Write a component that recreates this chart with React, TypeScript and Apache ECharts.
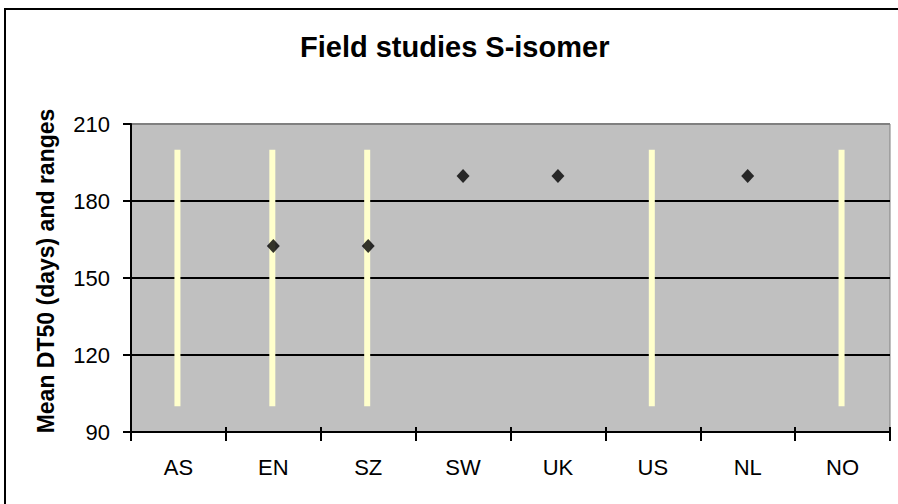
import React, { useEffect, useRef } from "react";
import * as echarts from "echarts";

// Sites along the category axis
const categories = ["AS", "EN", "SZ", "SW", "UK", "US", "NL", "NO"];
// Mean DT50 (days) per site; null where no mean is given
const meanDT50 = [null, 162.5, 162.5, 189.7, 189.7, null, 189.7, null];
// Range limits (days); null where no range is given
const rangeLow = [100, 100, 100, null, null, 100, null, 100];
const rangeHigh = [200, 200, 200, null, null, 200, null, 200];
// Value-axis settings
const yMin = 90;
const yMax = 210;
const yStep = 30;

const FONT = "'Liberation Sans', Arial, Helvetica, sans-serif";

export default function App() {
  const ref = useRef<HTMLDivElement>(null);

  useEffect(() => {
    document.body.style.margin = "0";
    if (!ref.current) return;
    const chart = echarts.init(ref.current, null, { renderer: "svg" });

    const rangeData = categories
      .map((c, i) => [i, rangeLow[i], rangeHigh[i]])
      .filter((d) => d[1] != null && d[2] != null);

    const meanData = categories.map((c, i) => [c, meanDT50[i]]).filter((d) => d[1] != null);

    chart.setOption({
      animation: false,
      backgroundColor: "#ffffff",
      title: {
        text: "Field studies S-isomer",
        left: 300,
        top: 32,
        padding: 0,
        textStyle: { fontFamily: FONT, fontSize: 29, fontWeight: "bold", color: "#000" },
      },
      grid: {
        left: 131,
        top: 124,
        right: 8,
        bottom: 72,
        show: true,
        backgroundColor: "#c0c0c0",
        borderColor: "#808080",
        borderWidth: 1,
      },
      xAxis: [
        {
          type: "category",
          data: categories,
          boundaryGap: true,
          axisLine: { show: true, lineStyle: { color: "#000", width: 2 } },
          axisTick: { show: true, length: 9, inside: false, lineStyle: { color: "#000", width: 2 } },
          axisLabel: { fontFamily: FONT, fontSize: 22, color: "#000", margin: 24 },
          splitLine: { show: false },
          z: 5,
        },
        {
          type: "category",
          data: categories,
          boundaryGap: true,
          position: "bottom",
          axisLine: { show: false },
          axisTick: { show: true, length: 5, inside: true, lineStyle: { color: "#000", width: 2 } },
          axisLabel: { show: false },
          splitLine: { show: false },
        },
      ],
      yAxis: {
        type: "value",
        min: yMin,
        max: yMax,
        interval: yStep,
        axisLine: { show: true, lineStyle: { color: "#000", width: 2 } },
        axisTick: { show: true, length: 8, lineStyle: { color: "#000", width: 2 } },
        axisLabel: { fontFamily: FONT, fontSize: 22, color: "#000", margin: 21 },
        splitLine: {
          show: true,
          lineStyle: { color: ["#000", "#000", "#000", "#000", "#808080"], width: 2 },
        },
      },
      graphic: [
        {
          type: "rect",
          silent: true,
          shape: { x: 5, y: 9, width: 1200, height: 1200 },
          style: { fill: "none", stroke: "#000", lineWidth: 2 },
        },
        {
          type: "text",
          x: 46,
          y: 271,
          rotation: Math.PI / 2,
          style: {
            text: "Mean DT50 (days) and ranges",
            fontFamily: FONT,
            fontSize: 23,
            fontWeight: "bold",
            fill: "#000",
            align: "center",
            verticalAlign: "middle",
          },
        },
      ],
      series: [
        {
          name: "Range",
          type: "custom",
          data: rangeData,
          encode: { x: 0, y: [1, 2] },
          renderItem: (params: any, api: any) => {
            const idx = api.value(0);
            const low = api.coord([idx, api.value(1)]);
            const high = api.coord([idx, api.value(2)]);
            const w = 6;
            return {
              type: "rect",
              shape: { x: low[0] - w / 2 - 1, y: high[1], width: w, height: low[1] - high[1] },
              style: { fill: "#ffffcc" },
            };
          },
          z: 2,
        },
        {
          name: "Mean",
          type: "scatter",
          data: meanData,
          symbol: "diamond",
          symbolSize: [13, 14],
          itemStyle: { color: "#000" },
          z: 3,
        },
      ],
    });

    return () => chart.dispose();
  }, []);

  return <div ref={ref} style={{ width: 898, height: 504 }} />;
}
